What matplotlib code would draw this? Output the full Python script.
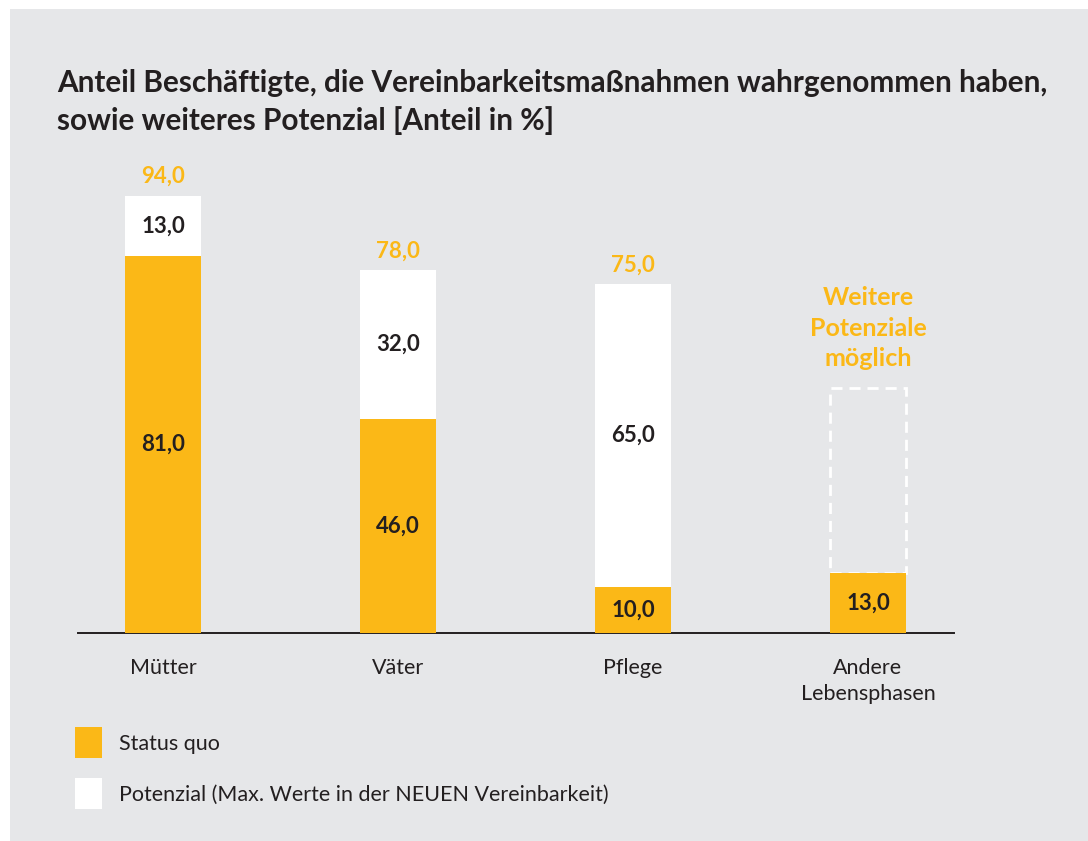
import matplotlib
matplotlib.use("Agg")
import matplotlib.pyplot as plt
from matplotlib.patches import Rectangle

categories = ["Mütter", "Väter", "Pflege", "Andere\nLebensphasen"]
status_quo = [81.0, 46.0, 10.0, 13.0]
potenzial = [13.0, 32.0, 65.0, None]
totals = [94.0, 78.0, 75.0, None]
placeholder_top = 52.7  # dashed "further potential" box for Andere Lebensphasen

title = ("Anteil Beschäftigte, die Vereinbarkeitsmaßnahmen wahrgenommen haben,\n"
         "sowie weiteres Potenzial [Anteil in %]")
legend_labels = ["Status quo", "Potenzial (Max. Werte in der NEUEN Vereinbarkeit)"]
note = "Weitere\nPotenziale\nmöglich"

ORANGE = "#FBB817"
GREY = "#E6E7E9"
DARK = "#231F20"
FONT = "Lato"

W, H = 1088, 841
fig = plt.figure(figsize=(W / 100, H / 100), dpi=100)
fig.patch.set_facecolor("white")
fig.patches.append(Rectangle((10 / W, 0), 1 - 10 / W, 1 - 9 / H, transform=fig.transFigure,
                             facecolor=GREY, edgecolor="none", zorder=-10))

def fx(px):
    return px / W

def fy(py):
    return 1 - py / H

base_py = 633
ppu = 4.65
ymax = 100
ax = fig.add_axes([fx(78), fy(base_py), fx(954) - fx(78), ymax * ppu / H])
ax.set_facecolor("none")
ax.set_xlim(-0.362, 3.366)
ax.set_ylim(0, ymax)
for s in ["top", "right", "left"]:
    ax.spines[s].set_visible(False)
ax.spines["bottom"].set_color(DARK)
ax.spines["bottom"].set_linewidth(1.4)
ax.set_yticks([])
ax.set_xticks(range(len(categories)))
ax.set_xticklabels(categories, fontsize=15.5, color=DARK, family=FONT, linespacing=1.35,
                   va="top")
ax.tick_params(axis="x", length=0, pad=18)

bw = 0.323
x = list(range(len(categories)))
ax.bar(x, status_quo, width=bw, color=ORANGE, zorder=3)
for i, p in enumerate(potenzial):
    if p is not None:
        ax.bar(i, p, bottom=status_quo[i], width=bw, color="white", zorder=3)

# value labels
for i in x:
    ax.text(i, status_quo[i] / 2, f"{status_quo[i]:.1f}".replace(".", ","),
            ha="center", va="center", fontsize=16, fontweight="bold", color=DARK,
            family=FONT, zorder=5)
    if potenzial[i] is not None:
        ax.text(i, status_quo[i] + potenzial[i] / 2, f"{potenzial[i]:.1f}".replace(".", ","),
                ha="center", va="center", fontsize=16, fontweight="bold", color=DARK,
                family=FONT, zorder=5)
    if totals[i] is not None:
        ax.annotate(f"{totals[i]:.1f}".replace(".", ","), (i, totals[i]),
                    xytext=(0, 14), textcoords="offset points",
                    ha="center", va="center", fontsize=16, fontweight="bold",
                    color=ORANGE, family=FONT)

# dashed placeholder box
i = 3
ax.add_patch(Rectangle((i - bw / 2, status_quo[i]), bw, placeholder_top - status_quo[i],
                       fill=False, edgecolor="white", linewidth=2, linestyle=(0, (4, 2.5)),
                       zorder=2))
ax.annotate(note, (i, placeholder_top), xytext=(0, 43), textcoords="offset points",
            ha="center", va="center", fontsize=18, fontweight="bold", color=ORANGE,
            family=FONT, linespacing=1.4)

# title
fig.text(fx(57), fy(102), title, ha="left", va="center", fontsize=21.45, fontweight="bold",
         color=DARK, family=FONT, linespacing=1.42)

# legend
fig.patches.append(Rectangle((fx(75), fy(758)), fx(27), 31 / H, transform=fig.transFigure,
                             facecolor=ORANGE, edgecolor="none"))
fig.patches.append(Rectangle((fx(75), fy(809)), fx(27), 31 / H, transform=fig.transFigure,
                             facecolor="white", edgecolor="none"))
fig.text(fx(119), fy(744), legend_labels[0], ha="left", va="center", fontsize=15.5,
         color=DARK, family=FONT)
fig.text(fx(119), fy(795), legend_labels[1], ha="left", va="center", fontsize=15.5,
         color=DARK, family=FONT)

fig.savefig("out.png", dpi=100, facecolor=fig.get_facecolor())
